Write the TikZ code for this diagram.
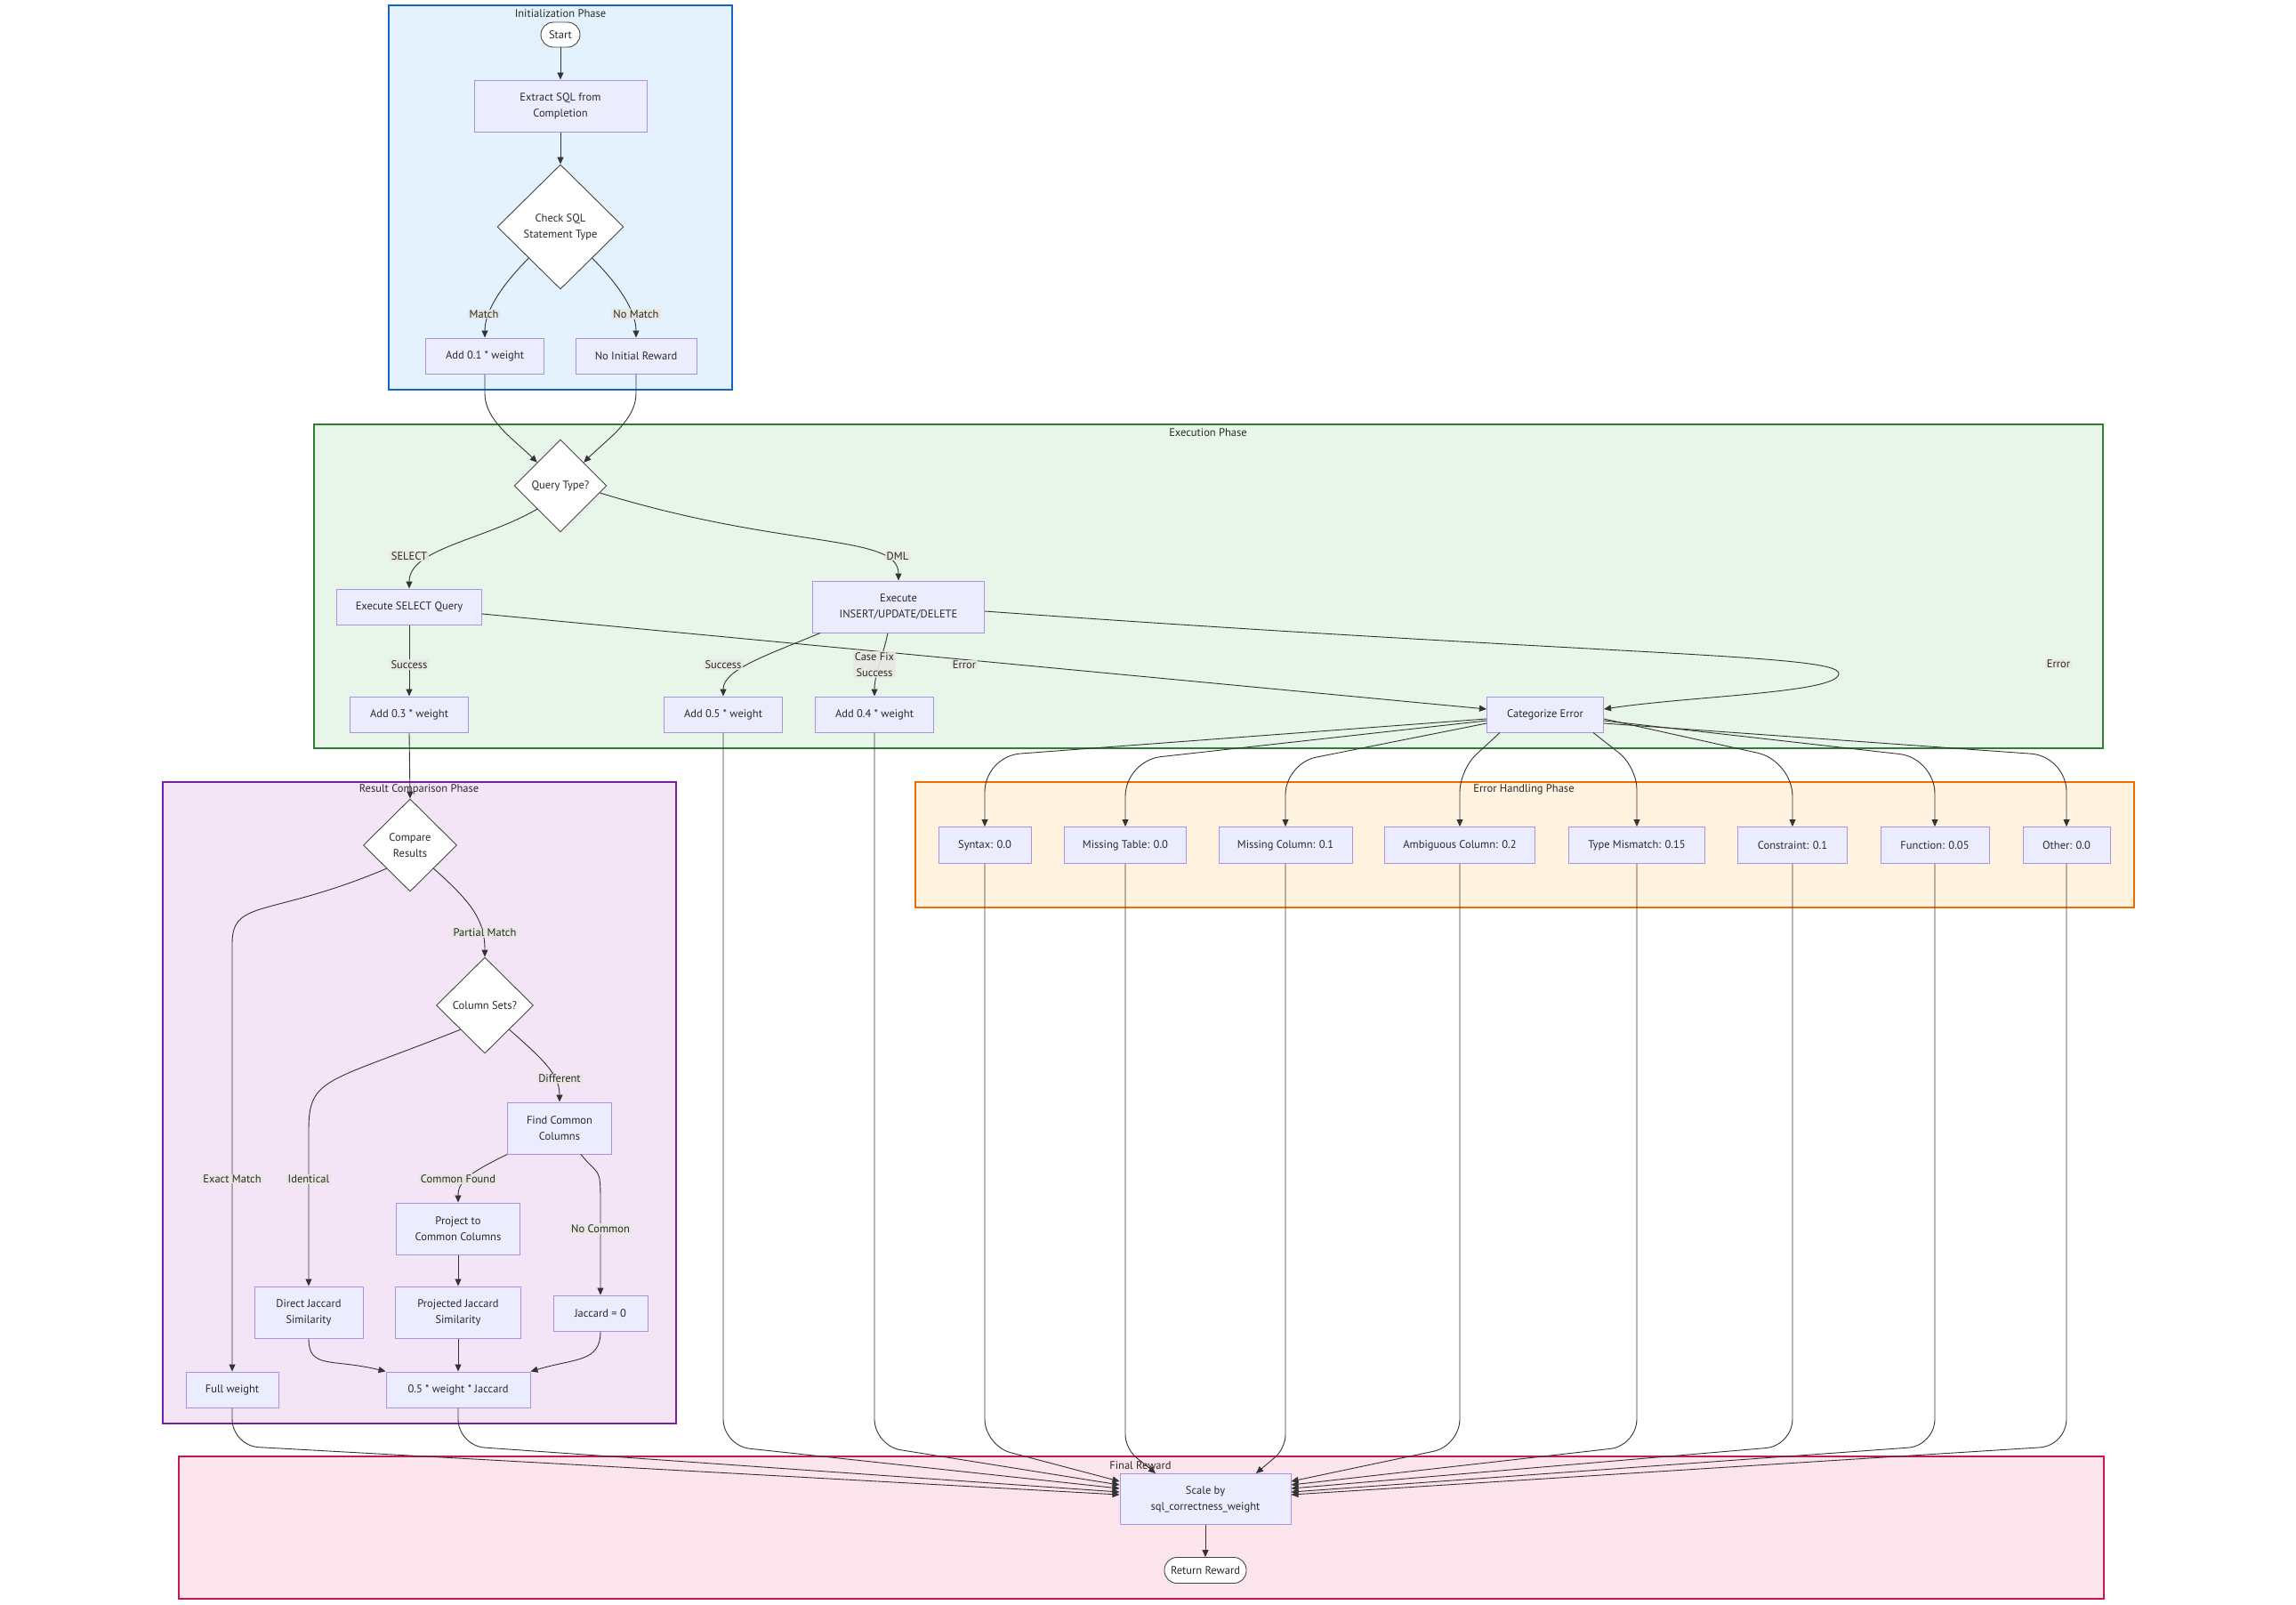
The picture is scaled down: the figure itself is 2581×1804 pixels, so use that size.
\documentclass[tikz,border=0pt]{standalone}
\usepackage{fontspec}
\setmainfont{PT Sans}
\usetikzlibrary{shapes.geometric,arrows.meta}
\definecolor{nodefill}{HTML}{ECECFF}
\definecolor{nodeborder}{HTML}{A892E2}
\definecolor{edgecol}{HTML}{333333}
\definecolor{txtcol}{HTML}{2A2A2A}
\definecolor{decborder}{HTML}{444444}
\definecolor{initfill}{HTML}{E3F2FD}
\definecolor{initborder}{HTML}{1565C0}
\definecolor{execfill}{HTML}{E8F5E9}
\definecolor{execborder}{HTML}{2E7D32}
\definecolor{resfill}{HTML}{F3E5F5}
\definecolor{resborder}{HTML}{7B1FA2}
\definecolor{errfill}{HTML}{FFF3E0}
\definecolor{errborder}{HTML}{EF6C00}
\definecolor{finfill}{HTML}{FCE4EC}
\definecolor{finborder}{HTML}{C2185B}
\definecolor{lblfill}{HTML}{E8E8E2}
\begin{document}
\begin{tikzpicture}[x=1pt,y=-1pt,
  every node/.append style={font=\fontsize{12.5}{18}\selectfont, text=txtcol},
  box/.style={draw=nodeborder, fill=nodefill, line width=1pt, inner sep=0pt, align=center, minimum height=40pt},
  dec/.style={diamond, aspect=1, draw=decborder, fill=white, line width=0.9pt, inner sep=0pt, align=center},
  term/.style={draw=decborder, fill=white, rounded corners=14pt, line width=0.9pt, inner sep=0pt, minimum height=28pt},
  conn/.style={draw=edgecol, line width=0.9pt, -{Triangle[length=8pt,width=7pt]}},
  elabel/.style={fill=lblfill, fill opacity=0.9, text opacity=1, inner xsep=2pt, inner ysep=1pt},
  ctitle/.style={inner sep=0pt},
  cluster/.style={line width=2pt},
]
\useasboundingbox (0,0) rectangle (2581,1804);
% clusters
\draw[cluster, draw=initborder, fill=initfill] (437,6) rectangle (823,438);
\draw[cluster, draw=execborder, fill=execfill] (353,477) rectangle (2364,841);
\draw[cluster, draw=resborder, fill=resfill] (183,879) rectangle (760,1600);
\draw[cluster, draw=errborder, fill=errfill] (1029,879) rectangle (2399,1020);
\draw[cluster, draw=finborder, fill=finfill] (201,1637) rectangle (2365,1797);
\node[ctitle] (inittitle) at (630,15) {Initialization Phase};
\node[ctitle] (exectitle) at (1358,486) {Execution Phase};
\node[ctitle] (restitle) at (471,887) {Result Comparison Phase};
\node[ctitle] (errtitle) at (1713,887) {Error Handling Phase};
\node[ctitle] (fintitle) at (1282,1647) {Final Reward};

% nodes
\node[term, minimum width=44pt] (start) at (630,39) {Start};
\node[box, minimum width=194pt, minimum height=58pt] (extract) at (630,119) {Extract SQL from\\Completion};
\node[dec, minimum width=142pt, minimum height=140pt] (check) at (630,255) {Check SQL\\Statement Type};
\node[box, minimum width=133pt] (add01) at (545,400) {Add 0.1 * weight};
\node[box, minimum width=136pt] (noinit) at (715,400) {No Initial Reward};

\node[dec, minimum width=104pt, minimum height=104pt] (qtype) at (630,546) {Query Type?};
\node[box, minimum width=163pt] (execsel) at (460,682) {Execute SELECT Query};
\node[box, minimum width=193pt, minimum height=58pt] (execdml) at (1010,682) {Execute\\INSERT/UPDATE/DELETE};
\node[box, minimum width=133pt] (add03) at (460,803) {Add 0.3 * weight};
\node[box, minimum width=133pt] (add05) at (813,803) {Add 0.5 * weight};
\node[box, minimum width=133pt] (add04) at (983,803) {Add 0.4 * weight};
\node[box, minimum width=131pt] (caterr) at (1737,803) {Categorize Error};

\node[dec, minimum width=105pt, minimum height=104pt] (compare) at (461,950) {Compare\\Results};
\node[dec, minimum width=109pt, minimum height=108pt] (colsets) at (545,1130) {Column Sets?};
\node[box, minimum width=117pt, minimum height=58pt] (findcommon) at (629,1268) {Find Common\\Columns};
\node[box, minimum width=139pt, minimum height=58pt] (project) at (515,1381) {Project to\\Common Columns};
\node[box, minimum width=122pt, minimum height=58pt] (directj) at (347,1475) {Direct Jaccard\\Similarity};
\node[box, minimum width=141pt, minimum height=58pt] (projj) at (515,1475) {Projected Jaccard\\Similarity};
\node[box, minimum width=106pt] (jacc0) at (675,1476) {Jaccard = 0};
\node[box, minimum width=104pt] (fullw) at (261,1562) {Full weight};
\node[box, minimum width=162pt] (halfw) at (515,1562) {0.5 * weight * Jaccard};

\node[box, minimum width=104pt, minimum height=41pt] (errsyn) at (1107,950) {Syntax: 0.0};
\node[box, minimum width=137pt, minimum height=41pt] (errtab) at (1265,950) {Missing Table: 0.0};
\node[box, minimum width=150pt, minimum height=41pt] (errcol) at (1445,950) {Missing Column: 0.1};
\node[box, minimum width=169pt, minimum height=41pt] (erramb) at (1641,950) {Ambiguous Column: 0.2};
\node[box, minimum width=153pt, minimum height=41pt] (errtyp) at (1840,950) {Type Mismatch: 0.15};
\node[box, minimum width=123pt, minimum height=41pt] (errcon) at (2015,950) {Constraint: 0.1};
\node[box, minimum width=122pt, minimum height=41pt] (errfun) at (2175,950) {Function: 0.05};
\node[box, minimum width=98pt, minimum height=41pt] (erroth) at (2323,950) {Other: 0.0};

\node[box, minimum width=192pt, minimum height=57pt] (scale) at (1355,1685) {Scale by\\sql\_correctness\_weight};
\node[term, minimum width=92pt, minimum height=29pt] (ret) at (1355,1765) {Return Reward};

% edges: initialization
\draw[conn] (start) -- (extract);
\draw[conn] (extract) -- (check);
\draw[conn] (check.south west) .. controls +(-30,30) and +(0,-30) .. (add01.north);
\draw[conn] (check.south east) .. controls +(30,30) and +(0,-30) .. (noinit.north);
\draw[conn] (add01.south) -- ++(0,22) .. controls +(0,30) and +(-25,-25) .. (qtype.north west);
\draw[conn] (noinit.south) -- ++(0,22) .. controls +(0,30) and +(25,-25) .. (qtype.north east);
% execution
\draw[conn] (qtype.south west) .. controls +(-60,35) and +(0,-45) .. (execsel.north);
\draw[conn] ([shift={(-8,8)}]qtype.east) .. controls +(208,64) and +(0,-53) .. (execdml.north);
\draw[conn] (execsel) -- (add03);
\draw[conn] ([shift={(0,8)}]execsel.east) -- ([shift={(0,-6)}]caterr.west);
\draw[conn] ([shift={(9,0)}]execdml.south west) .. controls +(-60,25) and +(0,-30) .. (add05.north);
\draw[conn] ([shift={(-12,0)}]execdml.south) .. controls +(-5,25) and +(0,-25) .. (add04.north);
\coordinate (dmlturn) at (2067,757);
\draw[conn] ([shift={(0,5)}]execdml.east) .. controls +(700,50) and +(0,-22) .. (dmlturn) .. controls +(0,22) and +(100,-15) .. ([shift={(0,-6)}]caterr.east);
% result comparison
\draw[conn] (add03.south) -- (compare.north);
\draw[conn] (compare.south west) .. controls +(-130,55) and +(0,-50) .. (fullw.north |- 0,1060) -- (fullw.north);
\draw[conn] (compare.south east) .. controls +(45,40) and +(0,-40) .. (colsets.north);
\draw[conn] (colsets.south west) .. controls +(-150,60) and +(0,-60) .. (directj.north |- 0,1270) -- (directj.north);
\draw[conn] (colsets.south east) .. controls +(40,35) and +(0,-30) .. (findcommon.north);
\draw[conn] (findcommon.south west) .. controls +(-40,20) and +(0,-25) .. (project.north);
\draw[conn] ([shift={(-35,0)}]findcommon.south east) .. controls +(20,25) and +(0,-40) .. (jacc0.north |- 0,1350) -- (jacc0.north);
\draw[conn] (project) -- (projj);
\draw[conn] (directj.south) .. controls +(0,35) and +(-60,-15) .. (halfw.north west);
\draw[conn] (projj) -- (halfw);
\draw[conn] (jacc0.south) .. controls +(0,35) and +(50,-15) .. (halfw.north east);
% error handling
\draw[conn, rounded corners=40pt] ([shift={(0,5)}]caterr.west) -- (errsyn.north |- 0,850) -- (errsyn.north);
\draw[conn, rounded corners=40pt] ([shift={(0,7)}]caterr.west) -- (errtab.north |- 0,855) -- (errtab.north);
\draw[conn, rounded corners=35pt] ([shift={(0,10)}]caterr.west) -- (errcol.north |- 0,858) -- (errcol.north);
\draw[conn, rounded corners=25pt] ([shift={(-51,0)}]caterr.south) -- (erramb.north |- 0,865) -- (erramb.north);
\draw[conn, rounded corners=25pt] ([shift={(54,0)}]caterr.south) -- (errtyp.north |- 0,862) -- (errtyp.north);
\draw[conn, rounded corners=40pt] ([shift={(0,5)}]caterr.east) -- (errcon.north |- 0,855) -- (errcon.north);
\draw[conn, rounded corners=40pt] ([shift={(0,7)}]caterr.east) -- (errfun.north |- 0,852) -- (errfun.north);
\draw[conn, rounded corners=40pt] ([shift={(0,10)}]caterr.east) -- (erroth.north |- 0,850) -- (erroth.north);
% final
\draw[conn, rounded corners=30pt] (fullw.south) -- (fullw.south |- 0,1625) -- ([shift={(0,-5)}]scale.west);
\draw[conn, rounded corners=30pt] (halfw.south) -- (halfw.south |- 0,1625) -- ([shift={(0,-8)}]scale.west);
\draw[conn, rounded corners=30pt] (add05.south) -- (add05.south |- 0,1625) -- ([shift={(0,-12)}]scale.west);
\draw[conn, rounded corners=30pt] (add04.south) -- (add04.south |- 0,1625) -- ([shift={(0,-16)}]scale.west);
\draw[conn, rounded corners=30pt] (errsyn.south) -- (errsyn.south |- 0,1625) -- ([shift={(0,-20)}]scale.west);
\draw[conn, rounded corners=15pt] (errtab.south) -- (errtab.south |- 0,1628) -- ([shift={(-56,0)}]scale.north);
\draw[conn, rounded corners=15pt] (errcol.south) -- (errcol.south |- 0,1628) -- ([shift={(57,0)}]scale.north);
\draw[conn, rounded corners=30pt] (erramb.south) -- (erramb.south |- 0,1625) -- ([shift={(0,-20)}]scale.east);
\draw[conn, rounded corners=30pt] (errtyp.south) -- (errtyp.south |- 0,1625) -- ([shift={(0,-16)}]scale.east);
\draw[conn, rounded corners=30pt] (errcon.south) -- (errcon.south |- 0,1625) -- ([shift={(0,-12)}]scale.east);
\draw[conn, rounded corners=30pt] (errfun.south) -- (errfun.south |- 0,1625) -- ([shift={(0,-8)}]scale.east);
\draw[conn, rounded corners=30pt] (erroth.south) -- (erroth.south |- 0,1625) -- ([shift={(0,-5)}]scale.east);
\draw[conn] (scale) -- (ret);

% edge labels
\node[elabel] (lmatch) at (544,353) {Match};
\node[elabel] (lnomatch) at (715,353) {No Match};
\node[elabel] (lselect) at (460,625) {SELECT};
\node[elabel] (ldml) at (1009,625) {DML};
\node[elabel] (lsucc1) at (460,747) {Success};
\node[elabel] (lsucc2) at (813,747) {Success};
\node[elabel, align=center] (lcase) at (983,747) {Case Fix\\Success};
\node[elabel] (lerr1) at (1084,747) {Error};
\node[elabel] (lerr2) at (2314,746) {Error};
\node[elabel] (lpartial) at (545,1048) {Partial Match};
\node[elabel] (ldiff) at (629,1212) {Different};
\node[elabel] (lexact) at (261,1325) {Exact Match};
\node[elabel] (lident) at (347,1325) {Identical};
\node[elabel] (lcommon) at (515,1325) {Common Found};
\node[elabel] (lnocommon) at (675,1381) {No Common};
\end{tikzpicture}
\end{document}
